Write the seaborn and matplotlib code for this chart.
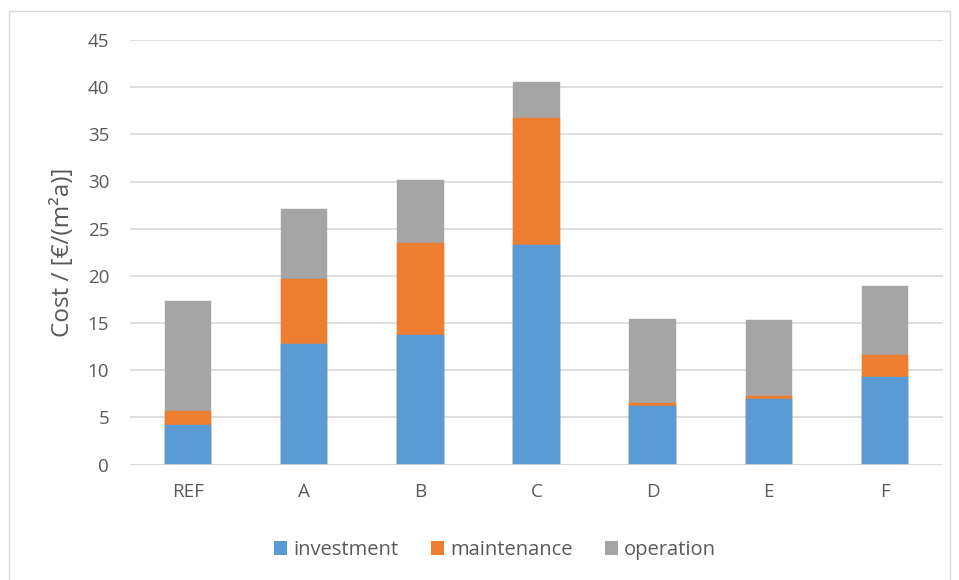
import matplotlib
matplotlib.use("Agg")
import matplotlib.pyplot as plt
from matplotlib.patches import Patch, Rectangle
import seaborn as sns
import pandas as pd
import numpy as np

# Annual cost breakdown per variant
categories = ["REF", "A", "B", "C", "D", "E", "F"]
investment = [4.2, 12.8, 13.7, 23.3, 6.2, 6.9, 9.3]
maintenance = [1.5, 6.9, 9.75, 13.4, 0.3, 0.4, 2.3]
operation = [11.65, 7.35, 6.75, 3.85, 8.9, 8.0, 7.35]
y_ticks = [0, 5, 10, 15, 20, 25, 30, 35, 40, 45]

series_names = ["investment", "maintenance", "operation"]
colors = {"investment": "#5B9BD5", "maintenance": "#ED7D31", "operation": "#A5A5A5"}

sns.set_theme(style="white")
plt.rcParams["font.family"] = ["Open Sans", "DejaVu Sans"]
text_color = "#595959"
grid_color = "#D9D9D9"

df = pd.DataFrame({
    "variant": categories,
    "investment": investment,
    "maintenance": maintenance,
    "operation": operation,
})
# cumulative tops for stacking (drawn back to front)
df["top_maintenance"] = df["investment"] + df["maintenance"]
df["top_operation"] = df["top_maintenance"] + df["operation"]

fig = plt.figure(figsize=(9.59, 5.8), dpi=100)
ax = fig.add_axes([130 / 959, 1 - 464.5 / 580, (943 - 130) / 959, (464.5 - 40) / 580])

layers = [("top_operation", "operation"), ("top_maintenance", "maintenance"), ("investment", "investment")]
for col, name in layers:
    sns.barplot(data=df, x="variant", y=col, color=colors[name], width=0.4,
                saturation=1, ax=ax, zorder=3, edgecolor=colors[name], linewidth=0.3)

ax.set_ylim(0, 45)
ax.set_yticks(y_ticks)
ax.set_xlim(-0.5, len(categories) - 0.5)
ax.yaxis.grid(True, color=grid_color, linewidth=1.2, zorder=0)
ax.xaxis.grid(False)
for s in ax.spines.values():
    s.set_visible(False)
ax.axhline(0, color=grid_color, linewidth=1.2, zorder=4)

ax.tick_params(axis="both", length=0, labelsize=13.5, colors=text_color)
ax.tick_params(axis="y", pad=15)
ax.tick_params(axis="x", pad=13)
ax.set_xlabel("")
ax.set_ylabel("Cost / [€/(m²a)]", fontsize=17.5, color=text_color, labelpad=9)

handles = [Patch(facecolor=colors[n], edgecolor="none", label=n) for n in series_names]
fig.legend(handles=handles, loc="center", bbox_to_anchor=(495 / 959, 1 - 550 / 580), ncol=3,
           frameon=False, fontsize=14.5, handlelength=0.65, handleheight=0.65,
           handletextpad=0.3, columnspacing=1.6, labelcolor=text_color)

# chart frame
fig.patches.append(Rectangle((9 / 959, -0.01), (950 - 9) / 959, 1 - 11 / 580 + 0.01,
                             transform=fig.transFigure, fill=False,
                             edgecolor="#D9D9D9", linewidth=1))

fig.savefig("out.png", dpi=100)
